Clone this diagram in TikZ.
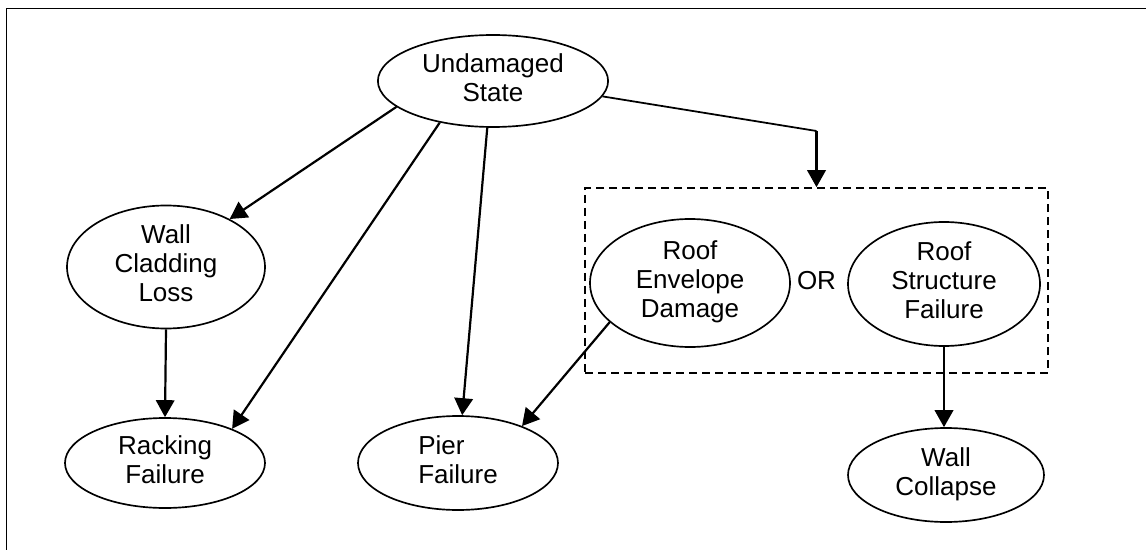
\documentclass[tikz,border=0pt]{standalone}
\usepackage{fontspec}
\setmainfont{Liberation Sans}
\usepackage{tikz}
\usetikzlibrary{arrows.meta,shapes.geometric,positioning}

\begin{document}
\begin{tikzpicture}[->,>={Triangle[length=3.4mm,width=3.7mm]},line width=1.25pt,
   event/.style={draw, ellipse, line width=0.95pt, inner sep=0pt, minimum width=4cm,
     font=\fontsize{14.8}{16.5}\selectfont},
   group/.style={draw, line width=0.95pt, dash pattern=on 1.6mm off 1mm,
     minimum width=9.26cm, minimum height=3.7cm}]
   \useasboundingbox (0,0) rectangle (22.92,-11);
   % frame (top and left edge only)
   \draw[-, line width=1.1pt] (0.13,-11) -- (0.13,-0.17) -- (22.92,-0.17);

   \node[event, minimum height=1.84cm] (us) at (9.86,-1.62) {\begin{tabular}{c} Undamaged \\ State \end{tabular}};
   \node[event, minimum width=3.96cm, minimum height=2.44cm] (wcl) at (3.32,-5.34) {\begin{tabular}{c} Wall \\ Cladding \\ Loss \end{tabular}};
   \node[event, minimum height=1.8cm] (rf) at (3.30,-9.26) {\begin{tabular}{c} Racking \\ Failure \end{tabular}};
   \node[event, minimum height=1.88cm] (pf) at (9.16,-9.26) {\begin{tabular}{l} Pier \\ Failure \end{tabular}};

   % roof group
   \node[group] (roof) at (16.33,-5.61) {};
   \node[font=\fontsize{14.8}{16.5}\selectfont] (or) at (roof) {OR};
   \node[event, minimum height=2.56cm] (red) at (13.8,-5.66) {\begin{tabular}{c} Roof \\ Envelope \\ Damage \end{tabular}};
   \node[event, minimum width=3.84cm, minimum height=2.48cm] (rsf) at (18.88,-5.68) {\begin{tabular}{c} Roof \\ Structure \\ Failure \end{tabular}};
   \node[event, minimum width=3.92cm, minimum height=1.88cm] (wc) at (18.92,-9.5) {\begin{tabular}{c} Wall \\ Collapse \end{tabular}};
   \coordinate (bend) at (16.33,-2.62);

   \draw (us.195) -- (wcl.37);
   \draw (us.218) -- (rf.27);
   \draw (us.263) -- (pf.85);
   \draw[-, line width=1pt] (us.352) -- (bend);
   \draw (bend) -- (roof.north);
   \draw (wcl.south) -- (rf.north);
   \draw (red.206) -- (pf.30);
   \draw (rsf.south) -- (rsf.south |- wc.north);
\end{tikzpicture}
\end{document}
